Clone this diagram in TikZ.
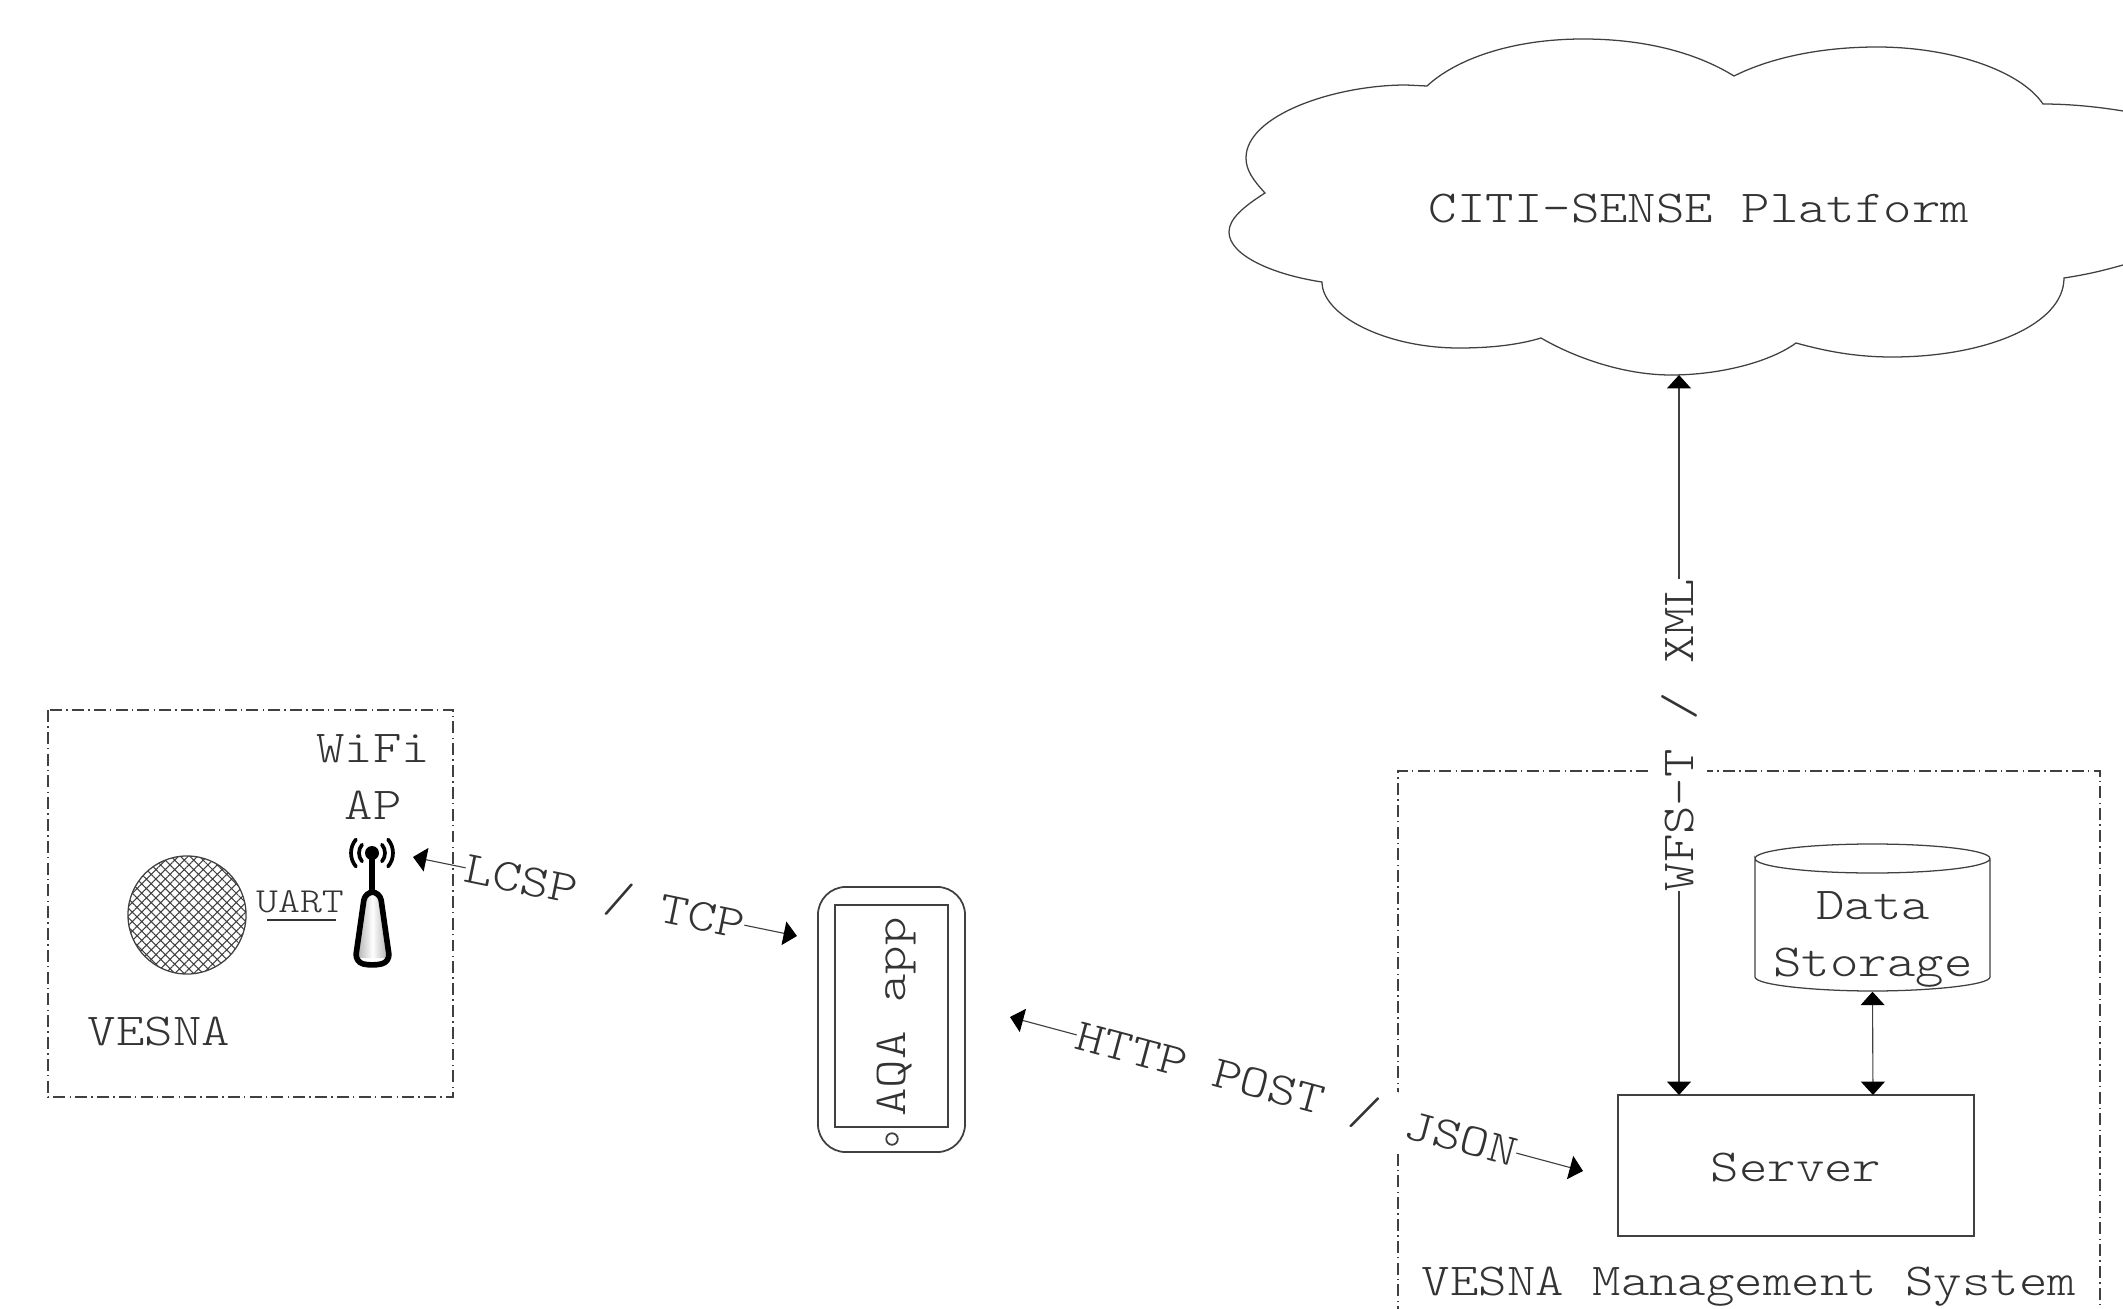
\documentclass[tikz,border=0pt]{standalone}
\usepackage{fontspec}
\usetikzlibrary{arrows.meta}
\usetikzlibrary{patterns.meta}
\newfontfamily\dgmfont[FakeStretch=1.185]{Latin Modern Mono Light}
\definecolor{ink}{gray}{0.2}
\definecolor{edge}{gray}{0.25}
\tikzset{
  tx/.style={font=\dgmfont\fontsize{13}{15}\selectfont,text=ink,inner sep=0pt,anchor=base},
  txsmall/.style={font=\dgmfont\fontsize{10}{12}\selectfont,text=ink,inner sep=0pt,anchor=base},
  thinline/.style={draw=edge,line width=0.36pt},
  groupbox/.style={draw=edge,line width=0.36pt,dash pattern=on 3.4pt off 1.2pt on 0.4pt off 1.2pt},
  linklabel/.style={font=\dgmfont\fontsize{13}{15}\selectfont,text=ink,fill=white,inner xsep=0pt,inner ysep=0pt,
    sloped,text height=0.28cm,text depth=0pt,minimum height=0.56cm},
  arrowline/.style={draw=edge,line width=0.32pt},
  tipboth/.style={{Triangle[width=6.8pt,length=3.8pt,black]}-{Triangle[width=6.8pt,length=3.8pt,black]}},
}
\begin{document}
\begin{tikzpicture}[x=0.01cm,y=-0.01cm]
\useasboundingbox (0,0) rectangle (2123,1309);
\begin{scope}
\clip (0,0) rectangle (2123,1309);

% cloud
\draw[thinline,fill=white] (1265,193)
  .. controls (1253,180) and (1246,170) .. (1246,158)
  .. controls (1246,115) and (1335,85) .. (1406,85)
  -- (1427,86)
  .. controls (1455,60) and (1510,39) .. (1583,39)
  .. controls (1650,39) and (1700,55) .. (1734,76)
  .. controls (1770,58) and (1820,47) .. (1877,47)
  .. controls (1950,47) and (2020,70) .. (2043,104)
  .. controls (2075,104) and (2105,108) .. (2123,111)
  .. controls (2170,120) and (2200,160) .. (2200,190)
  .. controls (2200,225) and (2170,258) .. (2123,265)
  .. controls (2105,270) and (2090,274) .. (2064,278)
  .. controls (2064,325) and (1985,357) .. (1892,357)
  .. controls (1855,357) and (1825,351) .. (1796,343)
  .. controls (1770,362) and (1720,375) .. (1671,375)
  .. controls (1620,375) and (1570,355) .. (1541,338)
  .. controls (1518,345) and (1490,348) .. (1459,348)
  .. controls (1385,348) and (1322,315) .. (1322,282)
  .. controls (1275,275) and (1229,256) .. (1229,232)
  .. controls (1229,219) and (1243,207) .. (1265,193)
  -- cycle;
\node[tx] (platform) at (1699,222) {CITI-SENSE Platform};
\coordinate (cloudbottom) at (1679,375);

% group boxes
\draw[groupbox] (48,710) rectangle (453,1097);
\draw[groupbox] (1398,1340) -- (1398,771) -- (2100,771) -- (2100,1340);

% VESNA device
\node[circle,draw=edge,line width=0.36pt,minimum size=1.18cm,inner sep=0pt,
  pattern={Hatch[angle=45,distance=1.9pt,line width=0.3pt]},pattern color=edge] (sensor) at (187,915) {};
\node[tx] (vesna) at (159,1045) {VESNA};
\node[tx] (wifi) at (373,762) {WiFi};
\node[tx] (ap) at (373,819) {AP};
\node[txsmall] (uart) at (300,912) {UART};
\coordinate (uartl) at (267,920);
\coordinate (uartr) at (336,920);
\draw[draw=ink,line width=0.55pt] (uartl) -- (uartr);

% antenna
\coordinate (ball) at (372,853);
\fill[black] (ball) circle (7);
\draw[black,line width=1.6pt] (ball) -- (372,892);
\foreach \r/\lw in {13/1.05pt,21/1.05pt}{
  \draw[black,line width=\lw,line cap=round] (ball) ++(40:\r) arc[start angle=40,end angle=-40,radius=\r];
  \draw[black,line width=\lw,line cap=round] (ball) ++(140:\r) arc[start angle=140,end angle=220,radius=\r];
}
\path[left color=gray!65,right color=gray!65,middle color=white]
  (364,895) -- (381,895) -- (389,958) -- (356,958) -- cycle;
\draw[black,line width=1.6pt,rounded corners=2.4pt,line join=round]
  (365,892) -- (380,892) -- (390,962) -- (372,966) -- (355,962) -- cycle;

% phone
\node[draw=edge,line width=0.5pt,rounded corners=0.28cm,minimum width=1.47cm,minimum height=2.65cm,inner sep=0pt] (phone) at (891.5,1019.5) {};
\node[draw=edge,line width=0.5pt,minimum width=1.13cm,minimum height=2.22cm,inner sep=0pt] (screen) at (891.5,1016) {};
\node[circle,draw=edge,line width=0.5pt,minimum size=0.115cm,inner sep=0pt] (homekey) at (892,1139) {};
\node[tx,rotate=90] (aqa) at (905,1017) {AQA app};

% server side
\node[draw=edge,line width=0.36pt,minimum width=3.56cm,minimum height=1.41cm,inner sep=0pt] (server) at (1796,1165.5) {};
\node[tx] (servertext) at (1796,1181) {Server};
\draw[thinline] (1755,858.5) arc[start angle=180,end angle=360,x radius=117.5,y radius=14.5]
  arc[start angle=0,end angle=180,x radius=117.5,y radius=14.5] -- (1755,977)
  .. controls (1755,985) and (1815,991) .. (1872.5,991)
  .. controls (1930,991) and (1990,985) .. (1990,977) -- (1990,858.5);
\node[minimum width=2.35cm,minimum height=1.47cm,inner sep=0pt] (store) at (1872.5,917.5) {};
\node[tx] (datatext) at (1873,919) {Data};
\node[tx] (storagetext) at (1873,976) {Storage};
\node[tx] (mgmt) at (1749,1295) {VESNA Management System};

% connectors
\coordinate (srvwfs) at (1679,1095);
\coordinate (srvstore) at (1873,1095);
\draw[arrowline,tipboth] (srvwfs) -- node[linklabel] (wfs) {WFS-T / XML} (cloudbottom);
\draw[arrowline,tipboth] (store.south) -- (srvstore);
\coordinate (lcspa) at (413,857);
\coordinate (lcspb) at (797,936);
\draw[arrowline,tipboth] (lcspa) -- node[linklabel] (lcsp) {LCSP / TCP} (lcspb);
\coordinate (httpa) at (1010,1017);
\coordinate (httpb) at (1583,1171);
\draw[arrowline,tipboth] (httpa) -- node[linklabel] (http) {HTTP POST / JSON} (httpb);
\end{scope}
\end{tikzpicture}
\end{document}
